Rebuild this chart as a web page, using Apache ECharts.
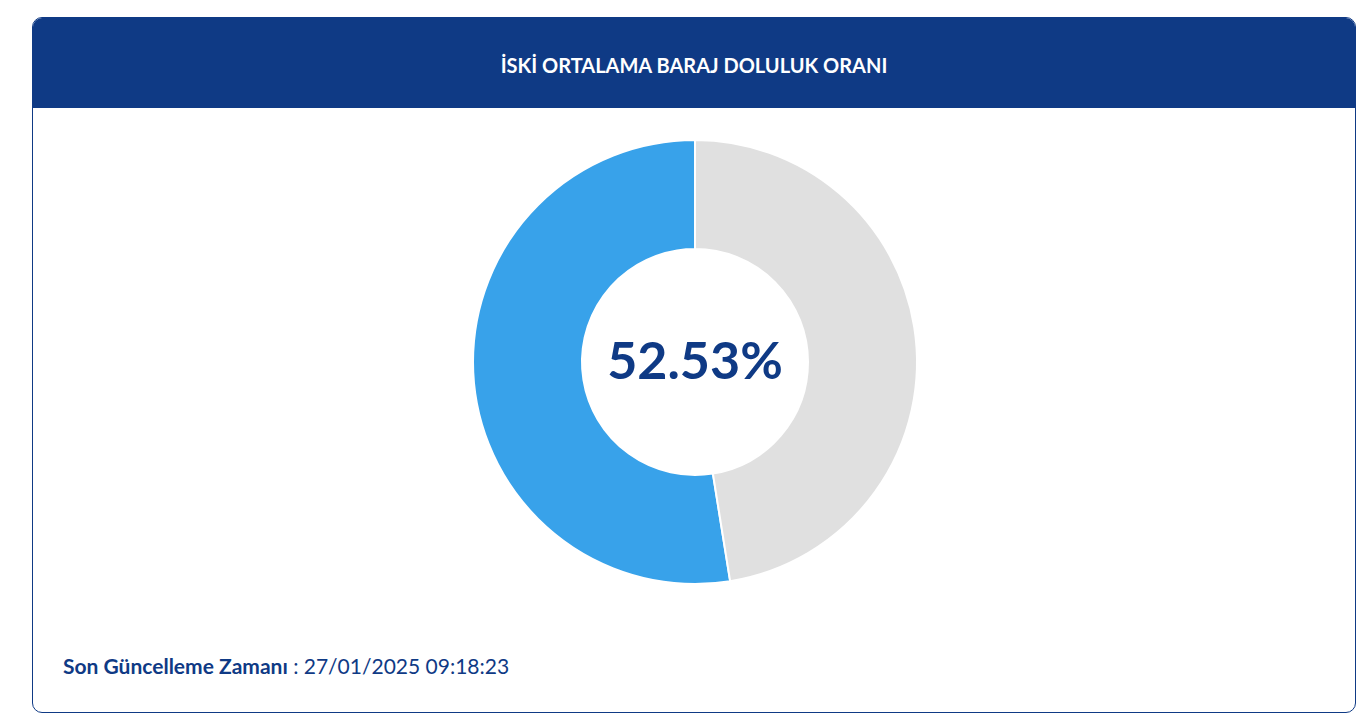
<!DOCTYPE html>
<html><head><meta charset="utf-8">
<script src="https://cdn.jsdelivr.net/npm/echarts@6/dist/echarts.min.js"></script>
<style>
html,body{margin:0;padding:0;width:1369px;height:725px;background:#fff;font-family:Lato,"Noto Sans",sans-serif;overflow:hidden}
#card{position:absolute;left:32px;top:17px;width:1324px;height:696px;border:1px solid #0f3a85;border-radius:10px;box-sizing:border-box;overflow:hidden}
#hdr{height:90px;background:#0f3a85;color:#fff;font-weight:bold;font-size:20px;text-align:center;line-height:94px}
#foot{position:absolute;left:30px;top:635px;font-size:21px;color:#0f3a85}
#chart{position:absolute;left:0;top:0;width:1369px;height:725px}
</style></head><body>
<div id="card"><div id="hdr">İSKİ ORTALAMA BARAJ DOLULUK ORANI</div>
<div id="foot"><b>Son Güncelleme Zamanı</b> : 27/01/2025 09:18:23</div></div>
<div id="chart"></div>
<script>
var categories=['Dolu','Boş'];
var values=[52.53,47.47];
var colors=['#38a2ea','#e0e0e0'];
var centerLabel='52.53%';
var chart=echarts.init(document.getElementById('chart'));
chart.setOption({
  animation:false,
  series:[{type:'pie',center:[695,362],radius:[113,222],startAngle:90,clockwise:false,
    label:{show:false},labelLine:{show:false},
    itemStyle:{borderColor:'#fff',borderWidth:2},
    data:categories.map(function(c,i){return {name:c,value:values[i],itemStyle:{color:colors[i]}};})}],
  graphic:[{type:'text',left:'center',top:'center',x:0,style:{text:centerLabel,x:695,y:362,align:'center',verticalAlign:'middle',font:'bold 52px Lato, "Noto Sans", sans-serif',fill:'#0f3a85'}}]
});
var g=chart.getOption();
chart.setOption({graphic:[{type:'text',left:null,top:null,x:0,y:0,style:{text:centerLabel,x:695,y:362,align:'center',verticalAlign:'middle',font:'bold 52px Lato, "Noto Sans", sans-serif',fill:'#0f3a85'}}]},{replaceMerge:['graphic']});
</script></body></html>
